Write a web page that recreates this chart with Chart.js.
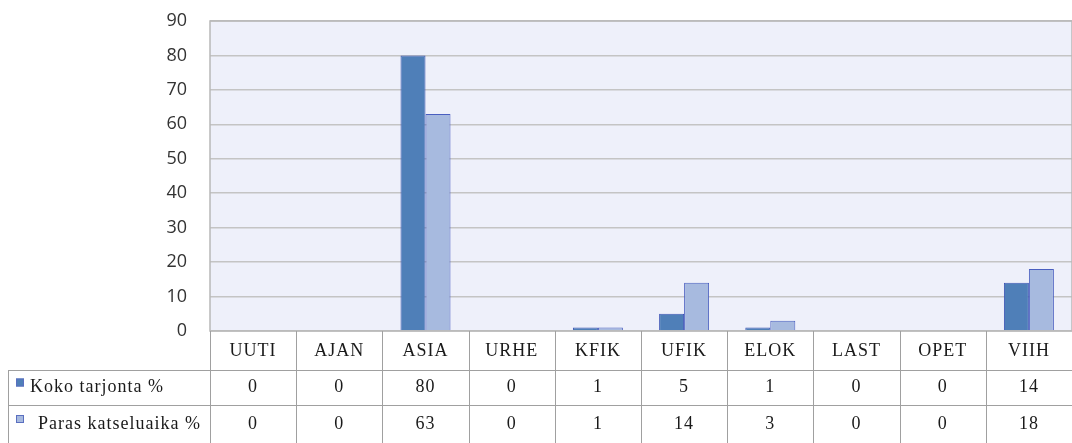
<!DOCTYPE html>
<html>
<head>
<meta charset="utf-8">
<script src="https://cdn.jsdelivr.net/npm/chart.js@4/dist/chart.umd.min.js"></script>
<style>
  html, body { margin: 0; padding: 0; background: #fff; }
  #wrap { width: 1072px; height: 443px; }
</style>
</head>
<body>
<div id="wrap"><canvas id="c"></canvas></div>
<script>
var categories = ['UUTI', 'AJAN', 'ASIA', 'URHE', 'KFIK', 'UFIK', 'ELOK', 'LAST', 'OPET', 'VIIH'];
var kokoTarjonta = [0, 0, 80, 0, 1, 5, 1, 0, 0, 14];
var parasAika = [0, 0, 63, 0, 1, 14, 3, 0, 0, 18];
var seriesNames = ['Koko tarjonta %', 'Paras katseluaika %'];
var yTicks = [0, 10, 20, 30, 40, 50, 60, 70, 80, 90];

var darkBlue = '#4f7fb8';
var lightBlue = '#a7badf';

// plot area background
var plotBg = {
    id: 'plotBg',
    beforeDraw: function(chart) {
        var a = chart.chartArea, ctx = chart.ctx;
        ctx.save();
        ctx.fillStyle = '#eef0fa';
        ctx.fillRect(a.left, a.top, a.right - a.left, a.bottom - a.top);
        ctx.restore();
    },
    afterDatasetsDraw: function(chart) {
        var a = chart.chartArea, ctx = chart.ctx;
        ctx.save();
        ctx.strokeStyle = '#b8b8b8';
        ctx.lineWidth = 1.5;
        ctx.strokeRect(a.left, a.top, a.right - a.left, a.bottom - a.top);
        ctx.restore();
    }
};

// data table under the chart, columns follow the x scale
var dataTable = {
    id: 'dataTable',
    afterDraw: function(chart) {
        var ctx = chart.ctx, x = chart.scales.x, a = chart.chartArea;
        var colW = (x.right - x.left) / categories.length;
        var top = a.bottom, row1 = top + 39, row2 = row1 + 35, bottom = chart.height;
        var tableLeft = 8;
        ctx.save();
        ctx.strokeStyle = '#a0a0a0';
        ctx.lineWidth = 1;
        ctx.beginPath();
        for (var i = 1; i < categories.length; i++) {
            var lx = Math.round(x.left + colW * i) + 0.5;
            ctx.moveTo(lx, top); ctx.lineTo(lx, bottom);
        }
        ctx.moveTo(Math.round(a.left) + 0.5, top); ctx.lineTo(Math.round(a.left) + 0.5, bottom);
        ctx.moveTo(tableLeft + 0.5, row1); ctx.lineTo(tableLeft + 0.5, bottom);
        ctx.moveTo(tableLeft, row1 + 0.5); ctx.lineTo(chart.width, row1 + 0.5);
        ctx.moveTo(tableLeft, row2 + 0.5); ctx.lineTo(chart.width, row2 + 0.5);
        ctx.stroke();

        ctx.fillStyle = '#1a1a1a';
        ctx.font = '18px "Liberation Serif"';
        ctx.letterSpacing = '1px';
        ctx.textAlign = 'center';
        ctx.textBaseline = 'middle';
        var rows = [kokoTarjonta, parasAika];
        var rowMid = [(row1 + row2) / 2, (row2 + bottom) / 2];
        for (var j = 0; j < categories.length; j++) {
            var cx = x.getPixelForValue(j);
            ctx.fillText(categories[j], cx, (top + row1) / 2 + 1);
            ctx.fillText(String(rows[0][j]), cx, rowMid[0]);
            ctx.fillText(String(rows[1][j]), cx, rowMid[1]);
        }
        // legend keys
        var colors = [darkBlue, lightBlue];
        ctx.textAlign = 'left';
        for (var k = 0; k < 2; k++) {
            ctx.fillStyle = colors[k];
            ctx.fillRect(16, rowMid[k] - 9, 8, 8);
            ctx.strokeStyle = '#5a6fc0';
            ctx.strokeRect(16.5, rowMid[k] - 8.5, 7, 7);
            ctx.fillStyle = '#1a1a1a';
            ctx.fillText(seriesNames[k], k === 0 ? 30 : 38, rowMid[k]);
        }
        ctx.letterSpacing = '0px';
        ctx.restore();
    }
};

new Chart(document.getElementById('c'), {
    type: 'bar',
    data: {
        labels: categories,
        datasets: [{
            label: seriesNames[0],
            data: kokoTarjonta,
            backgroundColor: darkBlue,
            borderColor: '#3d55b5',
            borderWidth: 1
        }, {
            label: seriesNames[1],
            data: parasAika,
            backgroundColor: lightBlue,
            borderColor: '#4a5fc0',
            borderWidth: 1
        }]
    },
    options: {
        responsive: true,
        maintainAspectRatio: false,
        animation: false,
        layout: { padding: { top: 21, right: 0, bottom: 112, left: 0 } },
        datasets: { bar: { categoryPercentage: 0.58, barPercentage: 1 } },
        plugins: {
            legend: { display: false },
            tooltip: { enabled: false }
        },
        scales: {
            x: {
                display: false
            },
            y: {
                min: 0,
                max: 90,
                afterFit: function(scale) {
                    scale.width = 210;
                    scale.paddingTop = 0;
                    scale.paddingBottom = 0;
                },
                afterBuildTicks: function(scale) {
                    scale.ticks = yTicks.map(function(v) { return { value: v }; });
                },
                ticks: {
                    padding: 23,
                    color: '#333',
                    font: { family: '"Open Sans"', size: 18 }
                },
                grid: { color: '#c4c4c4', lineWidth: 1.5, drawTicks: false },
                border: { display: false }
            }
        }
    },
    plugins: [plotBg, dataTable]
});
</script>
</body>
</html>
